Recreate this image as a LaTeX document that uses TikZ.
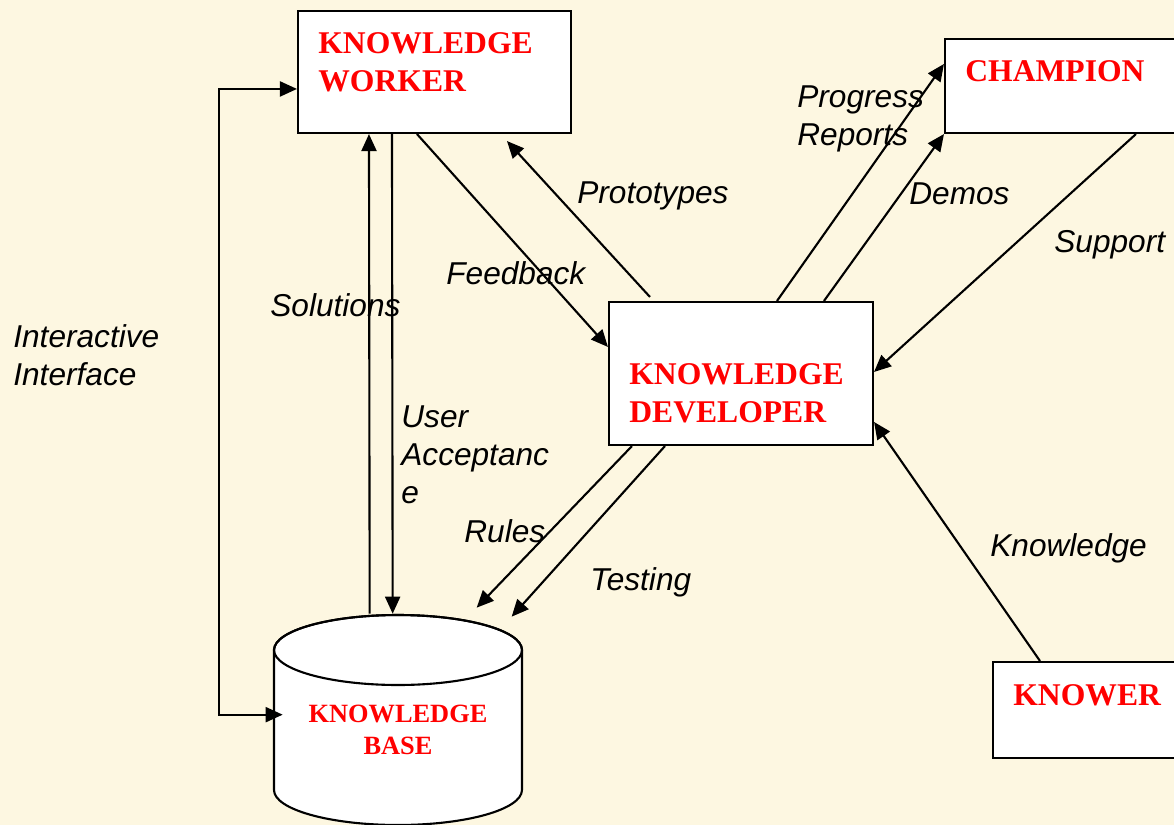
\documentclass[tikz,border=0pt]{standalone}
\usepackage{fontspec}
\setmainfont{Liberation Serif}
\setsansfont{Liberation Sans}
\usetikzlibrary{arrows.meta,calc,positioning}
\definecolor{paper}{HTML}{FDF7E1}
\tikzset{
  box/.style={draw, fill=white, line width=1.2pt, inner sep=0pt},
  title/.style={anchor=north west, inner sep=0pt, align=left, text=red, font=\rmfamily\bfseries\fontsize{18}{21.6}\selectfont},
  lbl/.style={anchor=north west, inner sep=0pt, align=left, font=\sffamily\itshape\fontsize{18}{21.6}\selectfont},
  tip/.tip={Triangle[length=0.34cm,width=0.3cm]},
  flow/.style={line width=1.2pt, -tip}
}
\begin{document}
\begin{tikzpicture}[x=0.02cm,y=-0.02cm]
  \fill[paper] (0,0) rectangle (1174,825);
  \useasboundingbox (0,0) rectangle (1174,825);

  % knowledge base drum
  \filldraw[fill=white, line width=1.2pt] (274,650) -- (274,790)
    arc[start angle=180, end angle=360, x radius=2.48cm, y radius=0.7cm] -- (522,650)
    arc[start angle=0, end angle=180, x radius=2.48cm, y radius=0.7cm] -- cycle;
  \draw[line width=1.2pt] (398,650) ellipse[x radius=2.48cm, y radius=0.7cm];
  \node[inner sep=0pt, minimum width=4.96cm, minimum height=4.22cm] (kb) at (398,719.5) {};
  \node[anchor=north, inner sep=0pt, align=center, text=red,
        font=\rmfamily\bfseries\fontsize{15}{18}\selectfont] (kbt) at (398,705) {KNOWLEDGE\\BASE};

  % boxes
  \node[box, minimum width=5.46cm, minimum height=2.44cm] (kw) at (434.5,72) {};
  \node[box, minimum width=4.8cm, minimum height=1.88cm] (ch) at (1065,86) {};
  \node[box, minimum width=5.28cm, minimum height=2.86cm] (kd) at (741,373.5) {};
  \node[box, minimum width=3.94cm, minimum height=1.92cm] (kn) at (1091.5,710) {};

  \node[title] (kwt) at (318,32) {KNOWLEDGE\\WORKER};
  \node[title] (cht) at (965,60) {CHAMPION};
  \node[title] (kdt) at (629,363) {KNOWLEDGE\\DEVELOPER};
  \node[title] (knt) at (1013,684) {KNOWER};

  % interactive interface
  \coordinate (ifc) at ($(kw.north west)+(-78,0)$);
  \coordinate (kwin) at ($(kw.north west)+(0,79)$);
  \coordinate (kbin) at ($(kb.north west)+(9,101)$);
  \draw[line width=1.2pt, tip-tip]
    (kwin) -- (kwin -| ifc) -- (kbin -| ifc) -- (kbin);

  % worker <-> base
  \draw[flow] ($(kb.north west)+(96,0)$) -- ($(kw.south west)+(72,0)$);
  \draw[flow] ($(kw.south west)+(95,0)$) -- ($(kb.north west)+(119,0)$);

  % worker <-> developer
  \draw[flow] ($(kw.south west)+(120,0)$) -- ($(kd.north west)+(0,46)$);
  \draw[flow] ($(kd.north west)+(42,-4)$) -- ($(kw.south west)+(210,7)$);

  % developer <-> champion
  \draw[flow] ($(kd.north west)+(169,0)$) -- ($(ch.north west)+(0,26)$);
  \draw[flow] ($(kd.north west)+(216,0)$) -- (ch.south west);
  \draw[flow] ($(ch.south west)+(192,0)$) -- ($(kd.north east)+(0,71)$);

  % knower -> developer
  \draw[flow] ($(kn.north west)+(48,0)$) -- ($(kd.north east)+(0,121)$);

  % developer -> base
  \draw[flow] ($(kd.south west)+(24,0)$) -- ($(kb.north west)+(203,-6)$);
  \draw[flow] ($(kd.south west)+(57,0)$) -- ($(kb.north west)+(238,3)$);

  % labels
  \node[lbl] (lii) at (13,324) {Interactive\\Interface};
  \node[lbl] (lso) at (270,293) {Solutions};
  \node[lbl] (lua) at (401,405) {User\\Acceptanc\\e};
  \node[lbl] (lfb) at (446,261) {Feedback};
  \node[lbl] (lpt) at (577,181) {Prototypes};
  \node[lbl] (lpr) at (797,85) {Progress\\Reports};
  \node[lbl] (ldm) at (909,182) {Demos};
  \node[lbl] (lsp) at (1054,230) {Support};
  \node[lbl] (lkn) at (990,533) {Knowledge};
  \node[lbl] (lru) at (464,519) {Rules};
  \node[lbl] (lte) at (590,567) {Testing};
\end{tikzpicture}
\end{document}
